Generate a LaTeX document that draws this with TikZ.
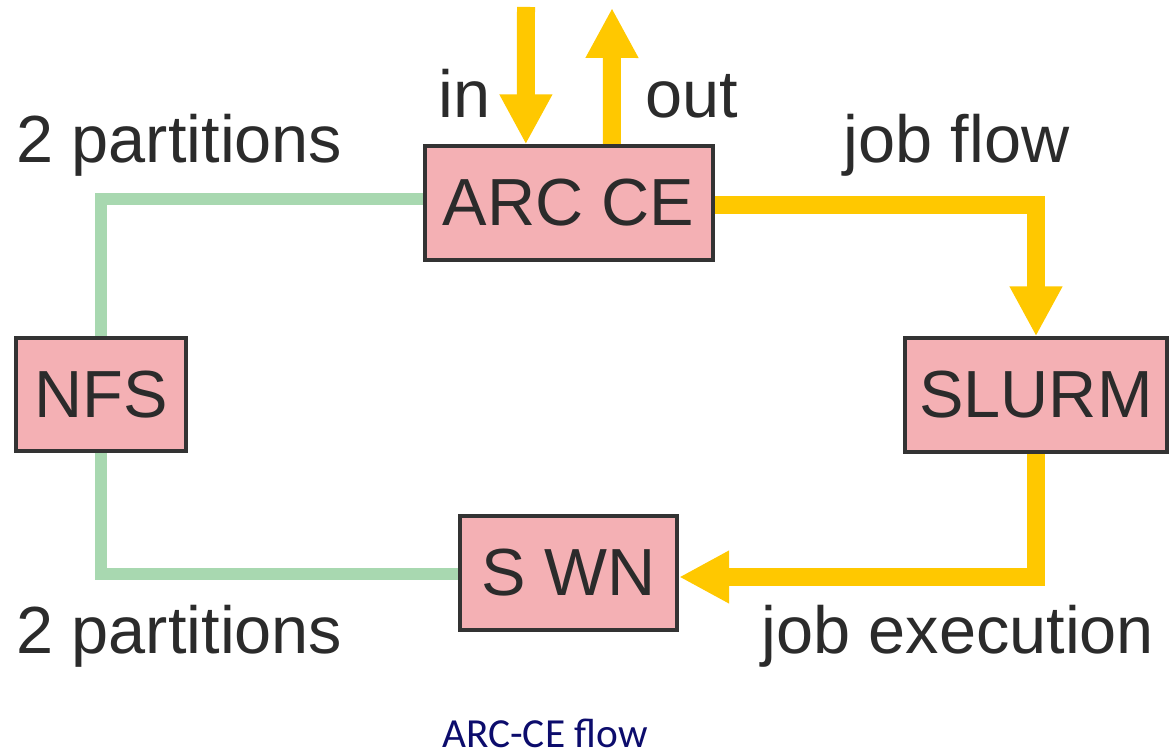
\documentclass[tikz,border=0pt]{standalone}
\usepackage{fontspec}
\setmainfont{Liberation Sans}
\newfontfamily\capfont{Carlito}
\usetikzlibrary{arrows.meta,backgrounds}
\definecolor{boxfill}{HTML}{F4B0B4}
\definecolor{boxline}{HTML}{333333}
\definecolor{flowy}{HTML}{FFC800}
\definecolor{linkg}{HTML}{A8D8B0}
\definecolor{txt}{HTML}{2B2B2B}
\definecolor{capc}{HTML}{0C0C6C}
\begin{document}
\begin{tikzpicture}[x=0.75pt,y=-0.75pt,
  box/.style={draw=boxline, line width=3pt, fill=boxfill, text=txt,
    font=\fontsize{50}{56}\selectfont, inner sep=0pt, minimum height=85pt},
  lbl/.style={anchor=base west, text=txt, font=\fontsize{50}{56}\selectfont, inner sep=0pt},
  yflow/.style={draw=flowy, line width=13.5pt, -{Triangle[width=37pt,length=37.5pt]}},
  glink/.style={draw=linkg, line width=9pt}]
\useasboundingbox (0,0) rectangle (1171,755);

\coordinate (inTop) at (526,7);
\coordinate (outTop) at (612,8);

\node[box, minimum width=216pt] (ARC) at (568.5,203) {ARC CE};
\node[box, minimum width=127pt] (NFS) at (101,394.5) {NFS};
\node[box, minimum width=196pt] (SLURM) at (1036,395) {SLURM};
\node[box, minimum width=163pt] (SWN) at (568.5,573) {S WN};

\begin{scope}[on background layer]
% green links
\draw[glink] ([yshift=3pt]ARC.west) -| (NFS.north);
\draw[glink] (NFS.south) |- ([yshift=-0.5pt]SWN.west);
% yellow flows
\draw[yflow] ([yshift=-1.5pt]ARC.east) -| (SLURM.north);
\draw[yflow] (SLURM.south) |- ([yshift=-3pt]SWN.east);
\draw[yflow] (inTop) -- ([xshift=-32pt]ARC.north);
\draw[yflow] ([xshift=32.6pt]ARC.north) -- (outTop);
\end{scope}

% labels
\node[lbl] (l1) at (16,163) {2 partitions};
\node[lbl] (l2) at (16,653) {2 partitions};
\node[lbl] (l3) at (438,118) {in};
\node[lbl] (l4) at (645.5,118) {out};
\node[lbl] (l5) at (843,163) {job flow};
\node[lbl] (l6) at (761,653) {job execution};
\node[anchor=base west, inner sep=0pt, text=capc, font=\capfont\fontsize{31}{36}\selectfont] (cap) at (442,747) {ARC-CE flow};
\end{tikzpicture}
\end{document}
